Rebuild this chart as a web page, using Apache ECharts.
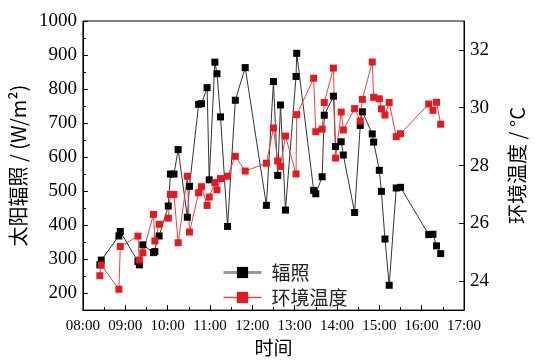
<!DOCTYPE html>
<html>
<head>
<meta charset="utf-8">
<script src="https://cdn.jsdelivr.net/npm/echarts@6/dist/echarts.min.js"></script>
<style>html,body{margin:0;padding:0;background:#fff;}#c{width:535px;height:362px;}</style>
</head>
<body>
<div id="c"></div>
<script>
const times = ["08:24","08:26","08:51","08:53","09:18","09:20","09:25","09:40","09:42","09:48","10:01","10:04","10:09","10:15","10:28","10:31","10:44","10:48","10:56","10:59","11:07","11:10","11:15","11:25","11:36","11:50","12:20","12:30","12:36","12:40","12:47","13:02","13:03","13:27","13:30","13:39","13:42","13:55","13:58","14:06","14:09","14:25","14:33","14:36","14:50","14:52","15:00","15:03","15:08","15:14","15:24","15:30","16:10","16:16","16:21","16:27"];
const irradiance = [283,297,368,381,293,283,342,319,322,368,456,550,550,622,423,514,755,757,804,533,879,845,718,396,767,863,458,822,546,753,444,837,905,502,492,542,723,779,631,645,606,437,693,733,668,644,561,499,359,223,509,511,372,373,339,316];
const temperature = [24.19,24.56,23.72,25.2,25.56,24.73,24.98,26.31,25.39,25.97,26.18,27.0,27.0,25.33,27.63,25.7,27.06,27.27,26.62,26.91,27.41,27.16,27.55,27.63,28.32,27.81,28.08,29.3,28.16,27.97,29.02,27.71,29.76,31.02,29.17,29.26,30.18,31.37,28.26,29.85,29.23,29.97,29.54,30.29,31.58,30.36,30.31,29.96,29.75,30.18,29.0,29.1,30.13,29.91,30.19,29.43];
const leftTicks = [200,300,400,500,600,700,800,900,1000];
const leftMinor = [250,350,450,550,650,750,850,950];
const rightTicks = [24,26,28,30,32];

function toHours(s){ const p = s.split(':'); return +p[0] + (+p[1])/60; }
const irrData = times.map((t,i)=>[toHours(t), irradiance[i]]);
const tmpData = times.map((t,i)=>[toHours(t), temperature[i]]);

const serif = '"Times New Roman", "Liberation Serif", "DejaVu Serif", serif';
const cjk = '"Noto Sans CJK SC", sans-serif';

const chart = echarts.init(document.getElementById('c'), null, {renderer:'canvas'});
chart.setOption({
  animation:false,
  backgroundColor:'#fff',
  grid:{left:77, right:58, top:21, bottom:47, show:true, borderColor:'#000', borderWidth:1, backgroundColor:'transparent'},
  legend:{
    orient:'vertical', left:217, top:258, itemWidth:38, itemHeight:14, itemGap:6,
    textStyle:{fontFamily:cjk, fontSize:19, color:'#222', padding:[0,0,0,5]},
    data:[
      {name:'辐照', lineStyle:{color:'#999', width:3}, itemStyle:{color:'#000'}},
      {name:'环境温度', lineStyle:{color:'#f04040', width:1.5}, itemStyle:{color:'#e5191e'}}
    ]
  },
  xAxis:{
    type:'value', min:8, max:17, interval:1,
    name:'时间', nameLocation:'middle', nameGap:26,
    nameTextStyle:{fontFamily:cjk, fontSize:19, color:'#000'},
    axisLine:{lineStyle:{color:'#000', width:1}},
    axisTick:{inside:true, length:5, lineStyle:{color:'#000'}},
    minorTick:{show:true, splitNumber:2, length:3, lineStyle:{color:'#000'}},
    splitLine:{show:false},
    axisLabel:{fontFamily:serif, fontSize:15, color:'#000', margin:8,
      formatter:v=>String(v).padStart(2,'0')+':00'}
  },
  yAxis:[
    {
      type:'value', min:150, max:1000, position:'left',
      name:'太阳辐照 / (W/m²)', nameLocation:'middle', nameRotate:90, nameGap:35,
      nameTextStyle:{fontFamily:cjk, fontSize:20, color:'#000'},
      axisLine:{show:true, lineStyle:{color:'#000'}},
      axisTick:{show:true, inside:true, length:5, customValues:leftTicks, lineStyle:{color:'#000'}},
      axisLabel:{fontFamily:serif, fontSize:19, color:'#000', margin:6, customValues:leftTicks, formatter:v=>String(v)},
      splitLine:{show:false}
    },
    {
      type:'value', min:23, max:33, position:'right',
      name:'环境温度 / °C', nameLocation:'middle', nameRotate:90, nameGap:43,
      nameTextStyle:{fontFamily:cjk, fontSize:20, color:'#000'},
      axisLine:{show:true, lineStyle:{color:'#000'}},
      axisTick:{show:true, inside:true, length:5, customValues:rightTicks, lineStyle:{color:'#000'}},
      axisLabel:{fontFamily:serif, fontSize:19, color:'#000', margin:6, customValues:rightTicks, formatter:v=>String(v)},
      splitLine:{show:false}
    },
    {
      type:'value', min:150, max:1000, position:'left',
      axisLine:{show:false},
      axisTick:{show:true, inside:true, length:3, customValues:leftMinor, lineStyle:{color:'#000'}},
      axisLabel:{show:false},
      splitLine:{show:false}
    }
  ],
  series:[
    {
      name:'辐照', type:'line', yAxisIndex:0, data:irrData,
      symbol:'rect', symbolSize:7, showSymbol:true,
      lineStyle:{color:'#333', width:1},
      itemStyle:{color:'#000'}
    },
    {
      name:'环境温度', type:'line', yAxisIndex:1, data:tmpData,
      symbol:'rect', symbolSize:7, showSymbol:true,
      lineStyle:{color:'#f04040', width:1},
      itemStyle:{color:'#e5191e'}
    }
  ]
});
</script>
</body>
</html>
